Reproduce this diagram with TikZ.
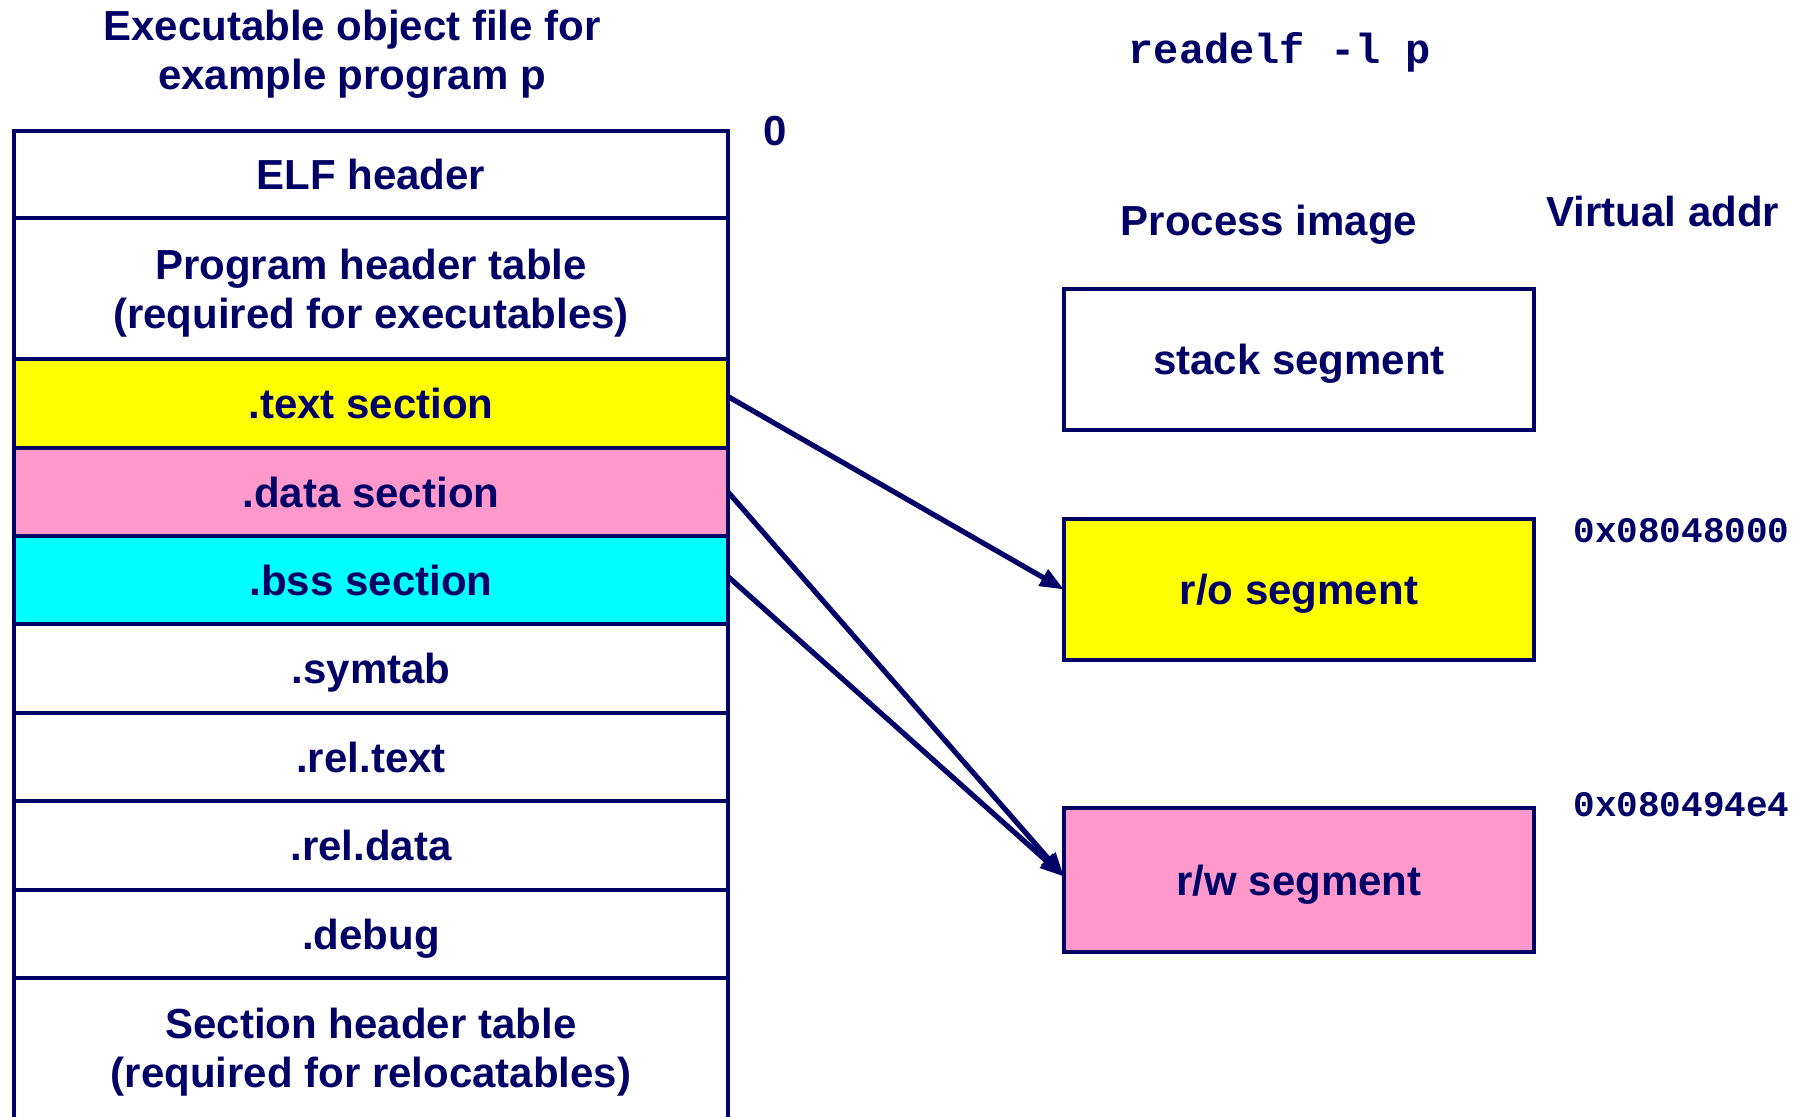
\documentclass[tikz,border=0pt]{standalone}
\usepackage{fontspec}
\setmainfont{Liberation Sans}
\setmonofont{Liberation Mono}
\usetikzlibrary{arrows.meta}
\definecolor{navy}{RGB}{0,0,102}
\definecolor{segyellow}{RGB}{255,255,0}
\definecolor{segpink}{RGB}{255,153,204}
\definecolor{segcyan}{RGB}{0,255,255}
\begin{document}
\begin{tikzpicture}[x=0.5pt,y=-0.5pt,
  lbl/.style={text=navy, font=\bfseries\fontsize{21}{24.5}\selectfont, align=center, inner sep=0pt, text depth=0pt},
  cell/.style={lbl, draw=navy, line width=2.3pt, minimum width=357pt, outer sep=0pt, anchor=north west},
  seg/.style={lbl, draw=navy, line width=2.3pt, minimum width=235pt, outer sep=0pt, anchor=north west},
  link/.style={draw=navy, line width=2.6pt, -{Triangle[length=12pt,width=9pt]}},
  hex/.style={text=navy, font=\ttfamily\bfseries\fontsize{18}{20}\selectfont, inner sep=0pt, anchor=west}
]
\useasboundingbox (0,0) rectangle (1800,1116);
\clip (0,0) rectangle (1800,1116);

% titles
\node[lbl] (title) at (352,50) {Executable object file for\\example program p};
\node[lbl] (zero) at (775,131) {0};
\node[lbl, font=\ttfamily\bfseries\fontsize{21}{24.5}\selectfont] (cmd) at (1280,48) {readelf -l p};
\node[lbl] (pimg) at (1269,220) {Process image};
\node[lbl] (vaddr) at (1663,211) {Virtual addr};

% executable file sections
\node[cell, minimum height=43.5pt] (elf) at (14,131) {ELF header};
\node[cell, minimum height=70.5pt] (pht) at (14,218) {Program header table\\(required for executables)};
\node[cell, fill=segyellow, minimum height=44.5pt] (text) at (14,359) {.text section};
\node[cell, fill=segpink, minimum height=44pt] (data) at (14,448) {.data section};
\node[cell, fill=segcyan, minimum height=44pt] (bss) at (14,536) {.bss section};
\node[cell, minimum height=44.5pt] (symtab) at (14,624) {.symtab};
\node[cell, minimum height=44pt] (reltext) at (14,713) {.rel.text};
\node[cell, minimum height=44.5pt] (reldata) at (14,801) {.rel.data};
\node[cell, minimum height=44pt] (debug) at (14,890) {.debug};
\node[cell, draw=none, minimum height=69.5pt] (sht) at (14,978) {Section header table\\(required for relocatables)};
\draw[navy, line width=2.3pt] ([yshift=-20pt]sht.south west) -- (sht.north west) -- (sht.north east) -- ([yshift=-20pt]sht.south east);

% process image segments
\node[seg, minimum height=70.5pt] (stack) at (1064,289) {stack segment};
\node[seg, fill=segyellow, minimum height=70.5pt] (ro) at (1064,519) {r/o segment};
\node[seg, fill=segpink, minimum height=72pt] (rw) at (1064,808) {r/w segment};

% addresses
\node[hex] (addr1) at (1573,531) {0x08048000};
\node[hex] (addr2) at (1573,805) {0x080494e4};

% mappings
\draw[link] ([yshift=3.5pt]text.east) -- (ro.west);
\draw[link] (data.east) -- ([yshift=1.7pt]rw.west);
\draw[link] ([yshift=1.7pt]bss.east) -- ([yshift=1.7pt]rw.west);
\end{tikzpicture}
\end{document}
